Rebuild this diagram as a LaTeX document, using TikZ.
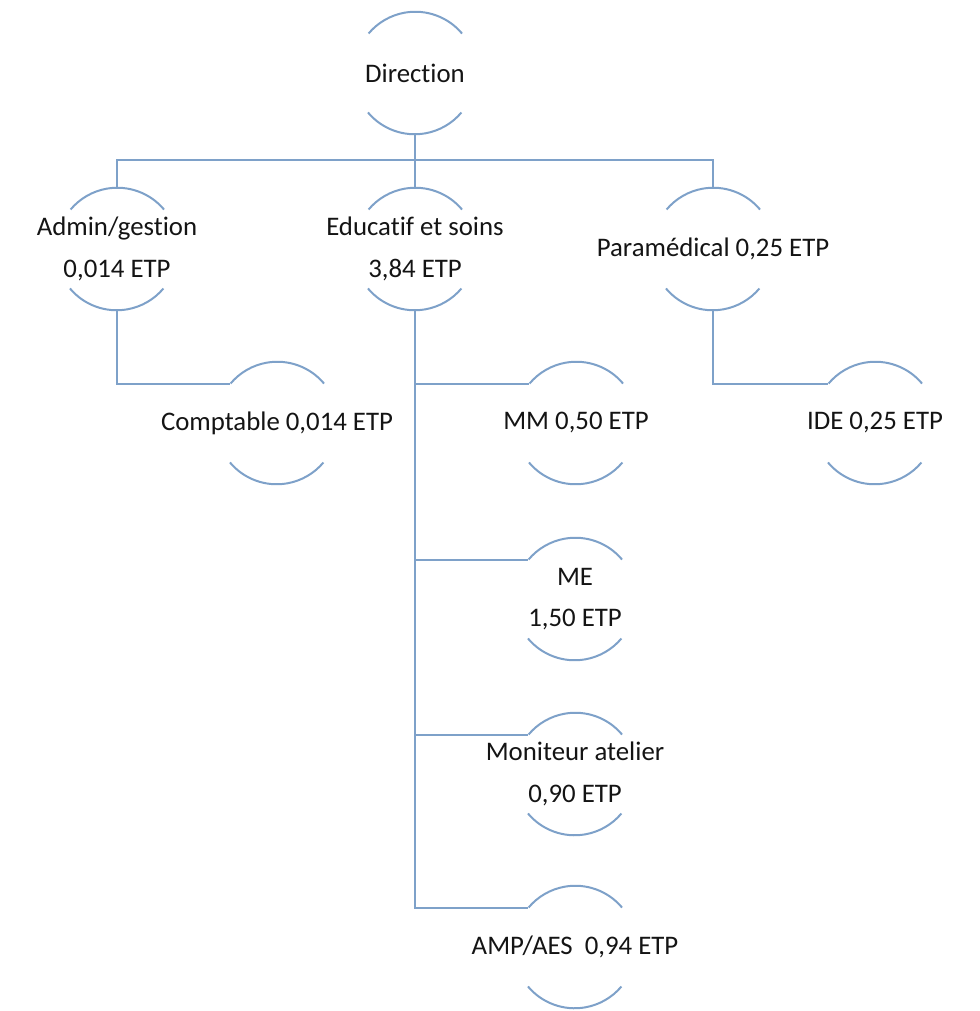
\documentclass[tikz,border=0pt]{standalone}
\usepackage{fontspec}
\setmainfont[RawFeature={-liga;-clig;-calt;-dlig}]{Carlito}
\definecolor{linec}{RGB}{126,161,201}
\definecolor{txtc}{RGB}{20,20,20}
\begin{document}
\begin{tikzpicture}[x=0.5pt,y=-0.5pt,
  bub/.style={circle,draw=none,inner sep=0pt,minimum size=61pt},
  lbl/.style={align=center,text=txtc,font=\fontsize{13.4}{20.8}\selectfont,inner sep=0pt},
  conn/.style={draw=linec,line width=1pt},
  arcs/.style={draw=linec,line width=1pt}]
\useasboundingbox (0,0) rectangle (979,1011);
% bubbles
\node[bub] (dir)  at (415,73)  {};
\node[bub] (adm)  at (117,249) {};
\node[bub] (edu)  at (415,249) {};
\node[bub] (para) at (713,249) {};
\node[bub] (comp) at (277,423) {};
\node[bub] (mm)   at (576,423) {};
\node[bub] (ide)  at (875,423) {};
\node[bub] (me)   at (575,599) {};
\node[bub] (mon)  at (575,774) {};
\node[bub] (amp)  at (575,947) {};
\foreach \n in {dir,adm,edu,para,comp,mm,ide,me,mon,amp}{
  \draw[arcs] (\n.40) arc[start angle=40,end angle=140,radius=30.5pt];
  \draw[arcs] (\n.220) arc[start angle=220,end angle=320,radius=30.5pt];
}
% labels
\node[lbl] (dir-t)  at (dir)  {Direction};
\node[lbl] (adm-t)  at (adm)  {Admin/gestion\\0,014 ETP};
\node[lbl] (edu-t)  at (edu)  {Educatif et soins\\3,84 ETP};
\node[lbl] (para-t) at (para) {Paramédical 0,25 ETP};
\node[lbl] (comp-t) at (comp) {Comptable 0,014 ETP};
\node[lbl] (mm-t)   at (mm)   {MM 0,50 ETP};
\node[lbl] (ide-t)  at (ide)  {IDE 0,25 ETP};
\node[lbl] (me-t)   at (me)   {ME\\1,50 ETP};
\node[lbl] (mon-t)  at (mon)  {Moniteur atelier\\0,90 ETP};
\node[lbl] (amp-t)  at (amp)  {AMP/AES\ \ 0,94 ETP};
% connectors
\coordinate (bar) at (415,160);
\draw[conn] (dir.south) -- (bar);
\draw[conn] (adm.north) -- (adm.north |- bar) -- (para.north |- bar) -- (para.north);
\draw[conn] (bar) -- (edu.north);
\draw[conn] (adm.south) |- (comp.140);
\draw[conn] (para.south) |- (ide.140);
\draw[conn] (edu.south) |- (mm.140);
\draw[conn] (edu.south) |- (me.140);
\draw[conn] (edu.south) |- (mon.140);
\draw[conn] (edu.south) |- (amp.140);
\end{tikzpicture}
\end{document}
